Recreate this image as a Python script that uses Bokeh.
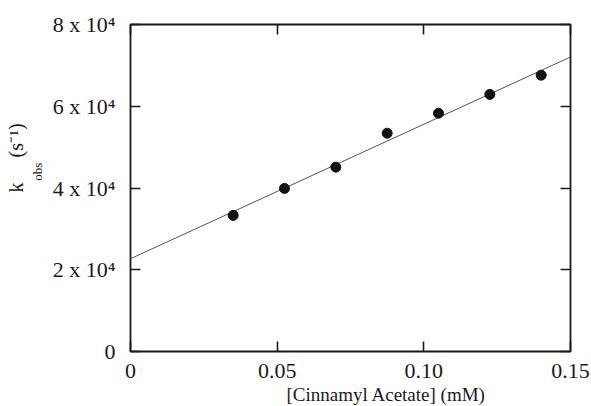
import numpy as np
from bokeh.plotting import figure
from bokeh.models import Range1d, LinearAxis, FixedTicker, Title
from bokeh.embed import file_html
from bokeh.resources import INLINE

# ---- data ----
conc_mM = [0.035, 0.0525, 0.070, 0.0875, 0.105, 0.1225, 0.140]
kobs = [33300, 39900, 45100, 53400, 58300, 62900, 67600]
fit_intercept = 22700
fit_slope = 329000
fit_x = [0.0, 0.15]
x_ticks = [0, 0.05, 0.10, 0.15]
x_tick_labels = ["0", "0.05", "0.10", "0.15"]
y_ticks = [0, 20000, 40000, 60000, 80000]
y_tick_labels = ["0", "2 x 10\u2074", "4 x 10\u2074", "6 x 10\u2074", "8 x 10\u2074"]
x_label = "[Cinnamyl Acetate] (mM)"
y_label_main = "k\u00a0\u00a0\u00a0\u00a0\u00a0(s\u207b\u00b9)"
y_label_sub = "obs"

FONT = "Liberation Serif"
INK = "#1a1a1a"

W, H = 591, 406
FL, FR, FT, FB = 130, 21, 24, 55     # frame borders
X0, X1, Y0, Y1 = 0.0, 0.15, 0.0, 80000.0

p = figure(width=W, height=H, output_backend="svg", toolbar_location=None,
           x_range=Range1d(X0, X1), y_range=Range1d(Y0, Y1),
           min_border_left=FL, min_border_right=FR, min_border_top=FT,
           min_border_bottom=FB)
p.grid.visible = False
p.background_fill_color = "white"
p.border_fill_color = "white"
p.outline_line_color = INK
p.outline_line_width = 1.8


def style_axis(ax, ticks, labels, show_labels):
    ax.ticker = FixedTicker(ticks=ticks)
    ax.major_tick_in = 10
    ax.major_tick_out = 0
    ax.minor_tick_line_color = None
    ax.major_tick_line_color = INK
    ax.major_tick_line_width = 1.6
    ax.axis_line_color = None
    if show_labels:
        ax.major_label_overrides = {t: l for t, l in zip(ticks, labels)}
        ax.major_label_text_font = FONT
        ax.major_label_text_font_size = "22px"
        ax.major_label_text_color = INK
    else:
        ax.major_label_text_font_size = "0px"
        ax.major_label_text_alpha = 0


style_axis(p.xaxis[0], x_ticks, x_tick_labels, True)
p.xaxis[0].major_label_standoff = 12
style_axis(p.yaxis[0], y_ticks, y_tick_labels, True)
p.yaxis[0].major_label_standoff = 15
# subscript part of the y title sits next to the tick labels
p.yaxis[0].axis_label = "\u00a0" * 10 + y_label_sub
p.yaxis[0].axis_label_text_font = FONT
p.yaxis[0].axis_label_text_font_size = "13px"
p.yaxis[0].axis_label_text_font_style = "normal"
p.yaxis[0].axis_label_text_color = INK
p.yaxis[0].axis_label_standoff = 5

top = LinearAxis()
right = LinearAxis()
style_axis(top, x_ticks, x_tick_labels, False)
style_axis(right, y_ticks, y_tick_labels, False)
p.add_layout(top, "above")
p.add_layout(right, "right")

# fit line
fit_y = [fit_intercept + fit_slope * x for x in fit_x]
p.line(fit_x, fit_y, line_color="#555555", line_width=1.0)

# points
p.scatter(conc_mM, kobs, size=10, fill_color="#111111", line_color="#111111")

# x axis title
p.add_layout(Title(text=x_label, text_font=FONT, text_font_size="19px",
                   text_color=INK, text_font_style="normal", align="left",
                   offset=156, standoff=2), "below")

# main part of the y title
p.add_layout(Title(text=y_label_main, text_font=FONT, text_font_size="20px",
                   text_color=INK, text_font_style="normal", align="left",
                   offset=159, standoff=0), "left")

open("out.html", "w").write(file_html(p, INLINE))
